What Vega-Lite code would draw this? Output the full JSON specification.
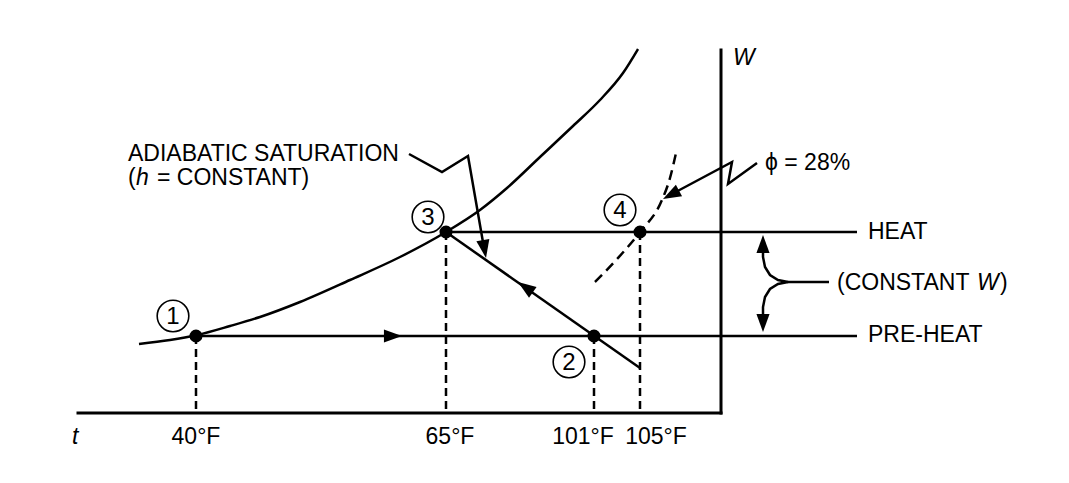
{
  "$schema": "https://vega.github.io/schema/vega-lite/v6.json",
  "width": 1069,
  "height": 483,
  "padding": 0,
  "autosize": {"type": "none"},
  "background": "white",
  "config": {"view": {"stroke": null}, "text": {"font": "Liberation Sans", "fontSize": 23, "color": "black"}},
  "datasets": {
    "axes": [
      {"g": "t", "i": 0, "t": 78, "W": 0}, {"g": "t", "i": 1, "t": 721, "W": 0},
      {"g": "W", "i": 0, "t": 721, "W": 0}, {"g": "W", "i": 1, "t": 721, "W": 363}
    ],
    "solid": [
      {"g": "heat", "i": 0, "t": 446, "W": 181}, {"g": "heat", "i": 1, "t": 857, "W": 181},
      {"g": "preheat", "i": 0, "t": 196, "W": 77}, {"g": "preheat", "i": 1, "t": 857, "W": 77},
      {"g": "adiabatic", "i": 0, "t": 446, "W": 181}, {"g": "adiabatic", "i": 1, "t": 640, "W": 45},
      {"g": "leaderA", "i": 0, "t": 409, "W": 259}, {"g": "leaderA", "i": 1, "t": 442, "W": 241},
      {"g": "leaderA", "i": 2, "t": 468, "W": 257}, {"g": "leaderA", "i": 3, "t": 484, "W": 165},
      {"g": "leaderP", "i": 0, "t": 757, "W": 250}, {"g": "leaderP", "i": 1, "t": 728, "W": 229},
      {"g": "leaderP", "i": 2, "t": 732, "W": 251}, {"g": "leaderP", "i": 3, "t": 672, "W": 219},
      {"g": "brace", "i": 0, "t": 788, "W": 131}, {"g": "brace", "i": 1, "t": 829, "W": 131},
      {"g": "braceUp", "i": 0, "t": 788, "W": 131}, {"g": "braceUp", "i": 1, "t": 778, "W": 133},
      {"g": "braceUp", "i": 2, "t": 770, "W": 138}, {"g": "braceUp", "i": 3, "t": 765, "W": 146},
      {"g": "braceUp", "i": 4, "t": 763, "W": 156}, {"g": "braceUp", "i": 5, "t": 763, "W": 165},
      {"g": "braceDown", "i": 0, "t": 788, "W": 131}, {"g": "braceDown", "i": 1, "t": 778, "W": 129},
      {"g": "braceDown", "i": 2, "t": 770, "W": 124}, {"g": "braceDown", "i": 3, "t": 765, "W": 116},
      {"g": "braceDown", "i": 4, "t": 763, "W": 106}, {"g": "braceDown", "i": 5, "t": 763, "W": 97}
    ],
    "sat": [
      {"t": 139, "W": 69}, {"t": 170, "W": 73}, {"t": 197, "W": 78}, {"t": 230, "W": 87},
      {"t": 260, "W": 96}, {"t": 300, "W": 111}, {"t": 350, "W": 133}, {"t": 400, "W": 156},
      {"t": 446, "W": 181}, {"t": 480, "W": 203}, {"t": 507, "W": 225}, {"t": 540, "W": 256},
      {"t": 573, "W": 287}, {"t": 600, "W": 313}, {"t": 623, "W": 340}, {"t": 638, "W": 364}
    ],
    "dashV": [
      {"g": "a", "t": 196, "W": 77}, {"g": "a", "t": 196, "W": 0},
      {"g": "b", "t": 446, "W": 181}, {"g": "b", "t": 446, "W": 0},
      {"g": "c", "t": 594, "W": 77}, {"g": "c", "t": 594, "W": 0},
      {"g": "d", "t": 640, "W": 181}, {"g": "d", "t": 640, "W": 0}
    ],
    "phi": [
      {"t": 595, "W": 131}, {"t": 618, "W": 155}, {"t": 640, "W": 181},
      {"t": 662, "W": 213}, {"t": 670, "W": 235}, {"t": 676, "W": 260}
    ],
    "dots": [
      {"n": 1, "t": 196, "W": 77}, {"n": 2, "t": 594, "W": 77},
      {"n": 3, "t": 446, "W": 181}, {"n": 4, "t": 640, "W": 181}
    ],
    "arrows": [
      {"t": 402, "W": 77, "dir": 90},
      {"t": 518, "W": 131, "dir": 305},
      {"t": 486, "W": 155, "dir": 170},
      {"t": 663, "W": 214, "dir": 242},
      {"t": 763, "W": 178, "dir": 0},
      {"t": 763, "W": 81, "dir": 180}
    ],
    "circled": [
      {"n": "1", "t": 173, "W": 97}, {"n": "2", "t": 569, "W": 51},
      {"n": "3", "t": 428, "W": 196}, {"n": "4", "t": 620, "W": 203}
    ],
    "leftText": [
      {"label": "ADIABATIC SATURATION", "t": 128, "W": 259},
      {"label": "(", "t": 128, "W": 235},
      {"label": "= CONSTANT)", "t": 157, "W": 235},
      {"label": "ϕ = 28%", "t": 765, "W": 250},
      {"label": "HEAT", "t": 868, "W": 181},
      {"label": "PRE-HEAT", "t": 868, "W": 78},
      {"label": "(CONSTANT", "t": 837, "W": 130},
      {"label": ")", "t": 1000, "W": 130}
    ],
    "italicText": [
      {"label": "h", "t": 136, "W": 235},
      {"label": "W", "t": 977, "W": 130},
      {"label": "W", "t": 733, "W": 355},
      {"label": "t", "t": 72, "W": -24}
    ],
    "ticks": [
      {"label": "40°F", "t": 196, "W": -24},
      {"label": "65°F", "t": 450, "W": -24},
      {"label": "101°F", "t": 583, "W": -24},
      {"label": "105°F", "t": 656, "W": -24}
    ]
  },
  "encoding": {
    "x": {"field": "t", "type": "quantitative", "scale": {"domain": [0, 1069], "nice": false, "zero": false}, "axis": null},
    "y": {"field": "W", "type": "quantitative", "scale": {"domain": [-70, 413], "nice": false, "zero": false}, "axis": null}
  },
  "layer": [
    {
      "data": {"name": "axes"},
      "mark": {"type": "line", "color": "black", "strokeWidth": 3, "strokeCap": "square"},
      "encoding": {"detail": {"field": "g"}, "order": {"field": "i"}}
    },
    {
      "data": {"name": "sat"},
      "mark": {"type": "line", "color": "black", "strokeWidth": 2.5, "interpolate": "monotone"},
      "encoding": {}
    },
    {
      "data": {"name": "solid"},
      "mark": {"type": "line", "color": "black", "strokeWidth": 2.5, "strokeJoin": "miter"},
      "encoding": {"detail": {"field": "g"}, "order": {"field": "i"}}
    },
    {
      "data": {"name": "dashV"},
      "mark": {"type": "line", "color": "black", "strokeWidth": 2.5, "strokeDash": [8, 5]},
      "encoding": {"detail": {"field": "g"}}
    },
    {
      "data": {"name": "phi"},
      "mark": {"type": "line", "color": "black", "strokeWidth": 2.5, "strokeDash": [10, 6], "interpolate": "monotone"},
      "encoding": {}
    },
    {
      "data": {"name": "dots"},
      "mark": {"type": "point", "shape": "circle", "filled": true, "color": "black", "opacity": 1, "size": 170},
      "encoding": {}
    },
    {
      "data": {"name": "arrows"},
      "mark": {"type": "point", "shape": "M0,0L-0.6,1.65L0.6,1.65Z", "filled": true, "color": "black", "opacity": 1, "size": 480},
      "encoding": {"angle": {"field": "dir", "type": "quantitative", "scale": null}}
    },
    {
      "data": {"name": "circled"},
      "mark": {"type": "point", "shape": "circle", "filled": false, "color": "black", "strokeWidth": 1.6, "opacity": 1, "size": 1000},
      "encoding": {}
    },
    {
      "data": {"name": "circled"},
      "mark": {"type": "text", "align": "center", "baseline": "middle", "fontSize": 24, "dy": 1},
      "encoding": {"text": {"field": "n"}}
    },
    {
      "data": {"name": "leftText"},
      "mark": {"type": "text", "align": "left", "baseline": "middle"},
      "encoding": {"text": {"field": "label"}}
    },
    {
      "data": {"name": "italicText"},
      "mark": {"type": "text", "align": "left", "baseline": "middle", "fontStyle": "italic"},
      "encoding": {"text": {"field": "label"}}
    },
    {
      "data": {"name": "ticks"},
      "mark": {"type": "text", "align": "center", "baseline": "middle"},
      "encoding": {"text": {"field": "label"}}
    }
  ]
}
